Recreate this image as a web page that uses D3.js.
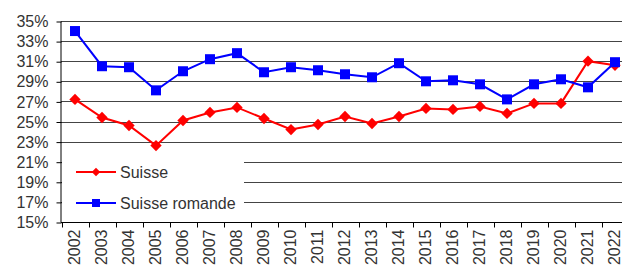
<!DOCTYPE html>
<html>
<head>
<meta charset="utf-8">
<script src="https://cdn.jsdelivr.net/npm/d3@7"></script>
<style>
  body { margin: 0; background: #fff; }
  svg text { font-family: "Liberation Sans", Arial, sans-serif; fill: #333; }
</style>
</head>
<body>
<svg id="chart" width="622" height="266"></svg>
<script>
const years = ["2002","2003","2004","2005","2006","2007","2008","2009","2010","2011","2012",
               "2013","2014","2015","2016","2017","2018","2019","2020","2021","2022"];
const suisse = [27.2,25.4,24.6,22.6,25.1,25.9,26.4,25.3,24.2,24.7,25.5,
                24.8,25.5,26.3,26.2,26.5,25.8,26.8,26.8,31.0,30.6];
const suisseRomande = [34.0,30.5,30.4,28.1,30.0,31.2,31.8,29.9,30.4,30.1,29.7,
                       29.4,30.8,29.0,29.1,28.7,27.2,28.7,29.2,28.4,30.9];
const yTicks = [15,17,19,21,23,25,27,29,31,33,35];

const svg = d3.select("#chart")

const x = d3.scaleBand()
    .domain(years)
    .range([61.5, 628.5]);

const y = d3.scaleLinear()
    .domain([15, 35])
    .range([222, 21]);

// Gridlines
svg.append("g")
    .selectAll("line")
    .data(yTicks.slice(1))
    .enter()
    .append("line")
    .attr("x1", 61)
    .attr("x2", 622)
    .attr("y1", d => Math.round(y(d)) + 0.5)
    .attr("y2", d => Math.round(y(d)) + 0.5)
    .attr("stroke", "#444")
    .attr("stroke-width", 1);

// Legend box (white, hides grid)
svg.append("rect")
    .attr("x", 62)
    .attr("y", 147)
    .attr("width", 182)
    .attr("height", 72)
    .attr("fill", "#fff");

// Axes
const yAxis = d3.axisLeft(y)
    .tickValues(yTicks)
    .tickSize(5)
    .tickPadding(8)
    .tickFormat(d => d + "%");

svg.append("g")
    .attr("transform", "translate(61.5,0.5)")
    .call(yAxis)
    .call(g => g.select(".domain").attr("stroke", "#000").attr("d", "M-0.5," + (y(35)) + "V" + (y(15)) ))
    .call(g => g.selectAll(".tick line").attr("stroke", "#000"))
    .call(g => g.selectAll("text").style("font-size", "16px").attr("fill", "#333"));

const xAxis = d3.axisBottom(x)
    .tickSize(0)
    .tickPadding(0);

const xg = svg.append("g")
    .attr("transform", "translate(0," + (Math.round(y(15)) + 0.5) + ")")
    .call(xAxis);
xg.select(".domain").attr("stroke", "#000").attr("d", "M61,0H622");
xg.selectAll(".tick text")
    .style("font-size", "16px")
    .attr("fill", "#333")
    .attr("text-anchor", "end")
    .attr("dy", "0.35em")
    .attr("transform", "translate(-1,7) rotate(-90)")
    .attr("y", 0)
    .attr("x", 0);

// band boundary ticks
xg.selectAll(".bnd")
    .data(years)
    .enter()
    .append("line")
    .attr("x1", d => Math.round(x(d)) + 0.5)
    .attr("x2", d => Math.round(x(d)) + 0.5)
    .attr("y1", 0)
    .attr("y2", 5)
    .attr("stroke", "#000");

const cx = d => x(d) + x.bandwidth() / 2;

// Lines
const line = d3.line()
    .x((d, i) => cx(years[i]))
    .y(d => y(d));

svg.append("path")
    .datum(suisse)
    .attr("d", line)
    .attr("fill", "none")
    .attr("stroke", "#ff0000")
    .attr("stroke-width", 2);

svg.append("path")
    .datum(suisseRomande)
    .attr("d", line)
    .attr("fill", "none")
    .attr("stroke", "#0000ff")
    .attr("stroke-width", 2);

// Markers
const diamond = d3.symbol().type(d3.symbolSquare).size(64);

svg.selectAll(".red")
    .data(suisse)
    .enter()
    .append("path")
    .attr("d", diamond)
    .attr("transform", (d, i) => `translate(${cx(years[i])},${y(d)}) rotate(45)`)
    .attr("fill", "#ff0000");

svg.selectAll(".blue")
    .data(suisseRomande)
    .enter()
    .append("rect")
    .attr("x", (d, i) => cx(years[i]) - 5)
    .attr("y", d => y(d) - 5)
    .attr("width", 10)
    .attr("height", 10)
    .attr("fill", "#0000ff");

// Legend
const legend = [
    {name: "Suisse", color: "#ff0000", yy: 172},
    {name: "Suisse romande", color: "#0000ff", yy: 203}
];

legend.forEach((d, i) => {
    svg.append("line")
        .attr("x1", 76).attr("x2", 116)
        .attr("y1", d.yy).attr("y2", d.yy)
        .attr("stroke", d.color).attr("stroke-width", 2);
    if (i === 0) {
        svg.append("path")
            .attr("d", d3.symbol().type(d3.symbolSquare).size(36))
            .attr("transform", `translate(96,${d.yy}) rotate(45)`)
            .attr("fill", d.color);
    } else {
        svg.append("rect")
            .attr("x", 92).attr("y", d.yy - 4)
            .attr("width", 8).attr("height", 8)
            .attr("fill", d.color);
    }
    svg.append("text")
        .attr("x", 120)
        .attr("y", d.yy)
        .attr("dy", "0.35em")
        .style("font-size", "16px")
        .text(d.name);
});
</script>
</body>
</html>
